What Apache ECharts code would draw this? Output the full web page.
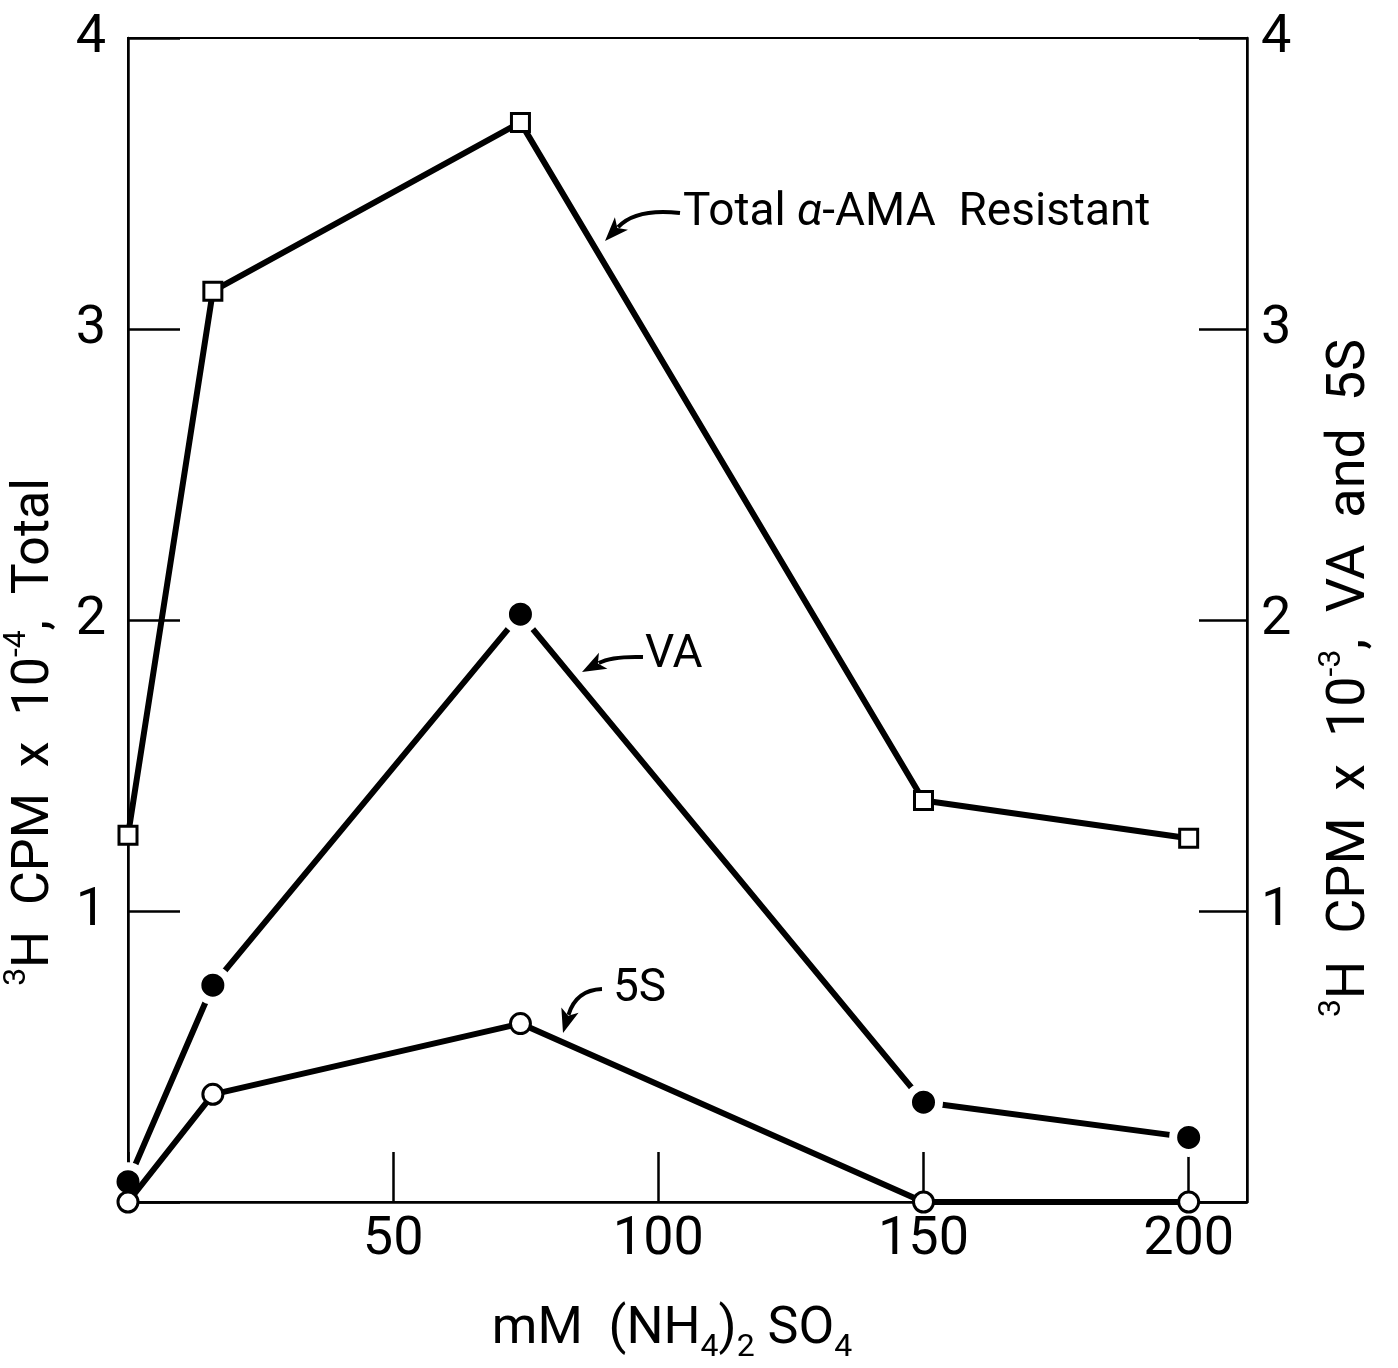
<!DOCTYPE html>
<html><head><meta charset="utf-8">
<script src="https://cdn.jsdelivr.net/npm/echarts@6/dist/echarts.min.js"></script>
<style>html,body{margin:0;padding:0;background:#fff}#c{width:1398px;height:1368px}</style>
</head><body><div id="c"></div>
<script>
// ---- data ----
const concentration = [0, 16, 74, 150, 200];          // mM (NH4)2SO4
const totalResistant = [1.26, 3.13, 3.71, 1.38, 1.25]; // 3H CPM x 10^-4 (left axis)
const vaValues = [0.07, 0.745, 2.02, 0.343, 0.222];    // 3H CPM x 10^-3 (right axis)
const fiveSValues = [0.0, 0.37, 0.613, 0.0, 0.0];      // 3H CPM x 10^-3 (right axis)
const xTickValues = [50, 100, 150, 200];
const yTickValues = [1, 2, 3, 4];

const FONT = 'Roboto, "Liberation Sans", sans-serif';
const FW = 400;
const zip = (xs, ys) => xs.map((x, i) => [x, ys[i]]);

function arrow(x1, y1, cx, cy, x2, y2) {
  const dx = x2 - cx, dy = y2 - cy, L = Math.hypot(dx, dy);
  const ux = dx / L, uy = dy / L, px = -uy, py = ux;
  const len = 24, hw = 9;
  const bx = x2 - ux * len, by = y2 - uy * len;
  return [
    { type: 'bezierCurve', shape: { x1, y1, cpx1: cx, cpy1: cy, x2: bx + ux * 5, y2: by + uy * 5 },
      style: { stroke: '#000', lineWidth: 4, fill: null } },
    { type: 'polygon', shape: { points: [[x2, y2], [bx + px * hw, by + py * hw], [bx + ux * 6, by + uy * 6], [bx - px * hw, by - py * hw]] },
      style: { fill: '#000' } }
  ];
}

const baseRich = {
  b: { fontSize: 52, fontFamily: FONT, fontWeight: FW, lineHeight: 60, fill: '#000' },
  bw: { fontSize: 54, fontFamily: FONT, fontWeight: FW, lineHeight: 60, fill: '#000' },
  sup: { fontSize: 32, fontFamily: FONT, fontWeight: FW, lineHeight: 32, padding: [0, 0, 36, 0], fill: '#000' },
  sub: { fontSize: 32, fontFamily: FONT, fontWeight: FW, lineHeight: 32, padding: [36, 0, 0, 0], fill: '#000' },
  it: { fontSize: 46, fontFamily: FONT, fontWeight: FW, fontStyle: 'italic', lineHeight: 50, fill: '#000' },
  a: { fontSize: 46, fontFamily: FONT, fontWeight: FW, lineHeight: 50, fill: '#000' }
};

const chart = echarts.init(document.getElementById('c'), null, { renderer: 'canvas' });
const labelStyle = { color: '#000', fontSize: 54, fontFamily: FONT, fontWeight: FW };

chart.setOption({
  backgroundColor: '#fff',
  animation: false,
  grid: { left: 128, right: 151, top: 38, bottom: 166, show: true, borderColor: '#000', borderWidth: 2, backgroundColor: 'transparent' },
  xAxis: {
    type: 'value', min: 0, max: 211, interval: 50,
    axisLine: { show: true, lineStyle: { color: '#000', width: 2.5 } },
    axisTick: { show: true, inside: true, length: 50, lineStyle: { color: '#000', width: 2.5 } },
    axisLabel: Object.assign({ margin: 11, showMaxLabel: false,
      formatter: v => xTickValues.includes(v) ? String(v) : '' }, labelStyle),
    splitLine: { show: false }
  },
  yAxis: [
    {
      type: 'value', position: 'left', min: 0, max: 4, interval: 1,
      axisLine: { show: true, lineStyle: { color: '#000', width: 2.5 } },
      axisTick: { show: true, inside: true, length: 52, lineStyle: { color: '#000', width: 2.5 } },
      axisLabel: Object.assign({ margin: 22, formatter: v => yTickValues.includes(v) ? String(v) : '' }, labelStyle),
      splitLine: { show: false }
    },
    {
      type: 'value', position: 'right', min: 0, max: 4, interval: 1,
      axisLine: { show: true, lineStyle: { color: '#000', width: 2.5 } },
      axisTick: { show: true, inside: true, length: 48, lineStyle: { color: '#000', width: 2.5 } },
      axisLabel: Object.assign({ margin: 14, formatter: v => yTickValues.includes(v) ? String(v) : '' }, labelStyle),
      splitLine: { show: false }
    }
  ],
  series: [
    {
      name: 'Total', type: 'line', yAxisIndex: 0, data: zip(concentration, totalResistant),
      symbol: 'rect', symbolSize: 18, showAllSymbol: true,
      lineStyle: { color: '#000', width: 6 },
      itemStyle: { color: '#fff', borderColor: '#000', borderWidth: 3 }, z: 3
    },
    {
      name: 'VA', type: 'line', yAxisIndex: 1, data: zip(concentration, vaValues),
      symbol: 'circle', symbolSize: 31, showAllSymbol: true,
      lineStyle: { color: '#000', width: 6 },
      itemStyle: { color: '#000', borderColor: '#fff', borderWidth: 8 }, z: 3
    },
    {
      name: '5S', type: 'line', yAxisIndex: 1, data: zip(concentration, fiveSValues),
      symbol: 'circle', symbolSize: 20, showAllSymbol: true,
      lineStyle: { color: '#000', width: 6 },
      itemStyle: { color: '#fff', borderColor: '#000', borderWidth: 3 }, z: 4
    }
  ],
  graphic: [
    { type: 'text', x: 35, y: 732, rotation: Math.PI / 2,
      style: { text: '{sup|3}{b|H  CPM  x  10}{sup|-4}{b|,  Total}', rich: baseRich, align: 'center', verticalAlign: 'middle' } },
    { type: 'text', x: 1350, y: 678, rotation: Math.PI / 2,
      style: { text: '{sup|3}{bw|H  CPM  x  10}{sup|-3}{bw|,  VA  and  5S}', rich: baseRich, align: 'center', verticalAlign: 'middle' } },
    { type: 'text', x: 672, y: 1330,
      style: { text: '{b|mM  (NH}{sub|4}{b|)}{sub|2}{b| SO}{sub|4}', rich: baseRich, align: 'center', verticalAlign: 'middle' } },
    { type: 'text', x: 683, y: 213,
      style: { text: '{a|Total }{it|α}{a|-AMA  Resistant}', rich: baseRich, align: 'left', verticalAlign: 'middle' } },
    { type: 'text', x: 645, y: 655,
      style: { text: '{a|VA}', rich: baseRich, align: 'left', verticalAlign: 'middle' } },
    { type: 'text', x: 613, y: 989,
      style: { text: '{a|5S}', rich: baseRich, align: 'left', verticalAlign: 'middle' } },
    ...arrow(680, 213, 636, 208, 605, 241),
    ...arrow(643, 657, 612, 656, 582, 672),
    ...arrow(602, 989, 576, 990, 563, 1033)
  ]
});
</script></body></html>
